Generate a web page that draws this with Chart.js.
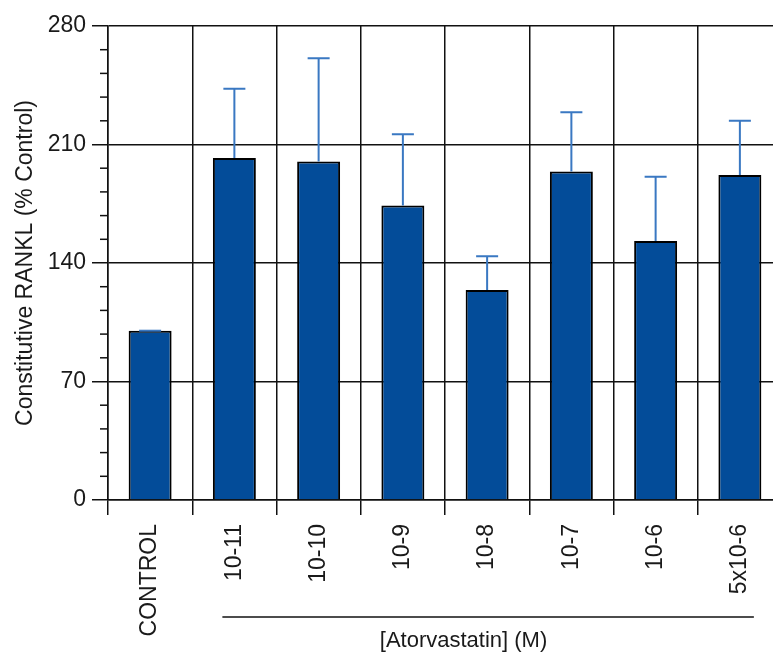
<!DOCTYPE html>
<html>
<head>
<meta charset="utf-8">
<title>Constitutive RANKL</title>
<script src="https://cdn.jsdelivr.net/npm/chart.js@4/dist/chart.umd.min.js"></script>
<style>
  html, body { margin: 0; padding: 0; background: #fff; overflow: hidden; }
  canvas { display: block; }
</style>
</head>
<body>
<canvas id="chart" width="790" height="660"></canvas>
<script>
// Treatment groups along the x axis
const categories = ['CONTROL', '10-11', '10-10', '10-9', '10-8', '10-7', '10-6', '5x10-6'];
// Mean constitutive RANKL expression, % of control
const meanValues = [100, 202, 200, 174, 124, 194, 153, 192];
// Upper error (SEM) for each group
const errorValues = [0, 41, 61, 42, 20, 35, 38, 32];
// Labelled y ticks and minor tick step
const yMajorTicks = [0, 70, 140, 210, 280];
const yMinorStep = 14;
const groupTitle = '[Atorvastatin] (M)';

const FONT = '"Liberation Sans", Arial, Helvetica, sans-serif';
const INK = '#111';
const TEXT = '#1a1a1a';

// Short unlabelled ticks on the y axis between the major values
const minorTicks = {
  id: 'minorTicks',
  afterDraw(chart) {
    const y = chart.scales.y;
    const ctx = chart.ctx;
    const left = chart.chartArea.left;
    ctx.save();
    ctx.strokeStyle = INK;
    ctx.lineWidth = 1.5;
    y.ticks.forEach(t => {
      if (yMajorTicks.includes(t.value)) return;
      const py = y.getPixelForValue(t.value);
      ctx.beginPath();
      ctx.moveTo(left - 8, py);
      ctx.lineTo(left, py);
      ctx.stroke();
    });
    ctx.restore();
  }
};

// Upper error bars with caps
const errorBars = {
  id: 'errorBars',
  afterDatasetsDraw(chart) {
    const y = chart.scales.y;
    const meta = chart.getDatasetMeta(0);
    const ctx = chart.ctx;
    ctx.save();
    ctx.strokeStyle = '#3A78C2';
    ctx.lineWidth = 2;
    meta.data.forEach((bar, i) => {
      const x = bar.x;
      const yBar = y.getPixelForValue(meanValues[i]);
      const yTop = y.getPixelForValue(meanValues[i] + errorValues[i]);
      ctx.beginPath();
      ctx.moveTo(x, yBar);
      ctx.lineTo(x, yTop);
      ctx.moveTo(x - 11, yTop);
      ctx.lineTo(x + 11, yTop);
      ctx.stroke();
    });
    ctx.restore();
  }
};

// Bracket line and title under the atorvastatin doses
const groupLabel = {
  id: 'groupLabel',
  afterDraw(chart) {
    const x = chart.scales.x;
    const ctx = chart.ctx;
    const x1 = x.getPixelForValue(1) - 12;
    const x2 = x.getPixelForValue(categories.length - 1) + 14;
    const lineY = chart.chartArea.bottom + 117;
    ctx.save();
    ctx.strokeStyle = INK;
    ctx.lineWidth = 1.5;
    ctx.beginPath();
    ctx.moveTo(x1, lineY);
    ctx.lineTo(x2, lineY);
    ctx.stroke();
    ctx.fillStyle = TEXT;
    ctx.font = '22px ' + FONT;
    ctx.textAlign = 'center';
    ctx.textBaseline = 'middle';
    ctx.fillText(groupTitle, x.getPixelForValue(3.72), lineY + 24);
    ctx.restore();
  }
};

new Chart(document.getElementById('chart'), {
  type: 'bar',
  data: {
    labels: categories,
    datasets: [{
      data: meanValues,
      backgroundColor: '#034C99',
      borderColor: '#000',
      borderWidth: 2,
      borderSkipped: 'start',
      categoryPercentage: 1,
      barPercentage: 0.51
    }]
  },
  options: {
    responsive: false,
    animation: false,
    devicePixelRatio: 1,
    layout: { padding: { top: 26, right: 8, left: 0, bottom: 0 } },
    plugins: {
      legend: { display: false },
      tooltip: { enabled: false }
    },
    scales: {
      x: {
        grid: {
          offset: true,
          color: INK,
          lineWidth: 1.5,
          tickLength: 15,
          tickColor: INK
        },
        border: { display: true, color: INK, width: 1.5 },
        ticks: {
          color: TEXT,
          font: { family: FONT, size: 23 },
          minRotation: 90,
          maxRotation: 90,
          autoSkip: false,
          padding: 9
        },
        afterFit(scale) { scale.height = 160; }
      },
      y: {
        min: 0,
        max: 280,
        grid: {
          color: c => yMajorTicks.includes(c.tick.value) ? INK : 'rgba(0,0,0,0)',
          tickColor: c => yMajorTicks.includes(c.tick.value) ? INK : 'rgba(0,0,0,0)',
          lineWidth: 1.5,
          tickLength: 16
        },
        border: { display: true, color: INK, width: 1.5 },
        ticks: {
          stepSize: yMinorStep,
          maxTicksLimit: 100,
          autoSkip: false,
          color: TEXT,
          padding: 6,
          font: { family: FONT, size: 23 },
          callback: v => yMajorTicks.includes(v) ? String(v) : ''
        },
        title: {
          display: true,
          text: 'Constitutive RANKL (% Control)',
          color: TEXT,
          font: { family: FONT, size: 23 },
          padding: { top: 12, bottom: 0 }
        },
        afterFit(scale) { scale.width = 108; }
      }
    }
  },
  plugins: [minorTicks, errorBars, groupLabel]
});
</script>
</body>
</html>
